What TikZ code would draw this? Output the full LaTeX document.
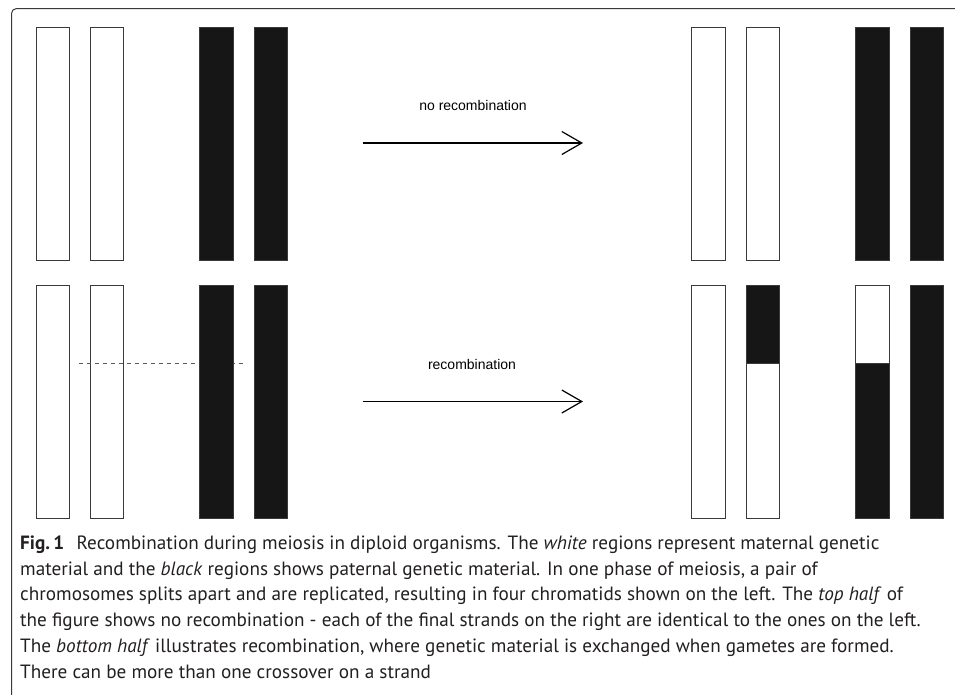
\documentclass[tikz,border=0pt]{standalone}
\usepackage{fontspec}
\setmainfont{PT Sans}
\newfontfamily\labelfont{Liberation Sans}
\usetikzlibrary{arrows.meta}
\definecolor{inkdark}{HTML}{161616}
\definecolor{edgegray}{HTML}{3A3A3A}
\definecolor{captiongray}{HTML}{231F20}
\tikzset{
  whitebar/.style={draw=edgegray, fill=white, line width=0.9pt},
  blackbar/.style={draw=edgegray, fill=inkdark, line width=0.9pt},
  flowarrow/.style={line width=1.2pt, -{Straight Barb[length=20pt,width=23pt,line width=1.2pt]}},
  arrowlabel/.style={font=\labelfont\fontsize{14}{16}\selectfont, text=black},
  crossline/.style={draw=black!65, line width=1pt, dash pattern=on 4pt off 4pt},
}
\begin{document}
\begin{tikzpicture}[x=1pt,y=-1pt]
\useasboundingbox (0,0) rectangle (955,694);

% frame of the figure panel
\draw[edgegray, line width=1pt, rounded corners=5pt] (11.5,700) -- (11.5,8.5) -- (965,8.5);

% ---- top row: no recombination ----
\draw[whitebar] (36,27) rectangle (69,260);
\draw[whitebar] (90.5,27) rectangle (123.5,260);
\draw[blackbar] (199.5,27) rectangle (233,260);
\draw[blackbar] (254,27) rectangle (287.5,260);

\draw[whitebar] (691.5,27) rectangle (725,260);
\draw[whitebar] (746,27) rectangle (779.5,260);
\draw[blackbar] (855.5,27) rectangle (889,260);
\draw[blackbar] (910,27) rectangle (943.5,260);

\coordinate (a1s) at (362.5,143);
\coordinate (a1e) at (583,143);
\draw[flowarrow] (a1s) -- (a1e);
\node[arrowlabel] (lab1) at (473,105) {no recombination};

% ---- bottom row: recombination ----
\draw[whitebar] (36,285.5) rectangle (69,518);
\draw[whitebar] (90.5,285.5) rectangle (123.5,518);
\draw[crossline] (79,363) -- (243.5,363);
\draw[blackbar] (199.5,285.5) rectangle (233,518);
\draw[blackbar] (254,285.5) rectangle (287.5,518);

\draw[whitebar] (691.5,285.5) rectangle (725,518);
% recombined strands
\draw[blackbar] (746,285.5) rectangle (779.5,363);
\draw[whitebar] (746,363) rectangle (779.5,518);
\draw[whitebar] (855.5,285.5) rectangle (889,363);
\draw[blackbar] (855.5,363) rectangle (889,518);
\draw[blackbar] (910,285.5) rectangle (943.5,518);

\coordinate (a2s) at (362.5,401.5);
\coordinate (a2e) at (583,401.5);
\draw[flowarrow] (a2s) -- (a2e);
\node[arrowlabel] (lab2) at (472,364) {recombination};

% ---- caption ----
\node[anchor=north west, inner sep=0pt, align=left, text=captiongray,
      font=\fontsize{19.2}{25.8}\selectfont] (caption) at (20,535.5) {%
\textbf{Fig.\,1}\hspace{0.65em}Recombination during meiosis in diploid organisms. The \textit{white} regions represent maternal genetic\\
material and the \textit{black} regions shows paternal genetic material. In one phase of meiosis, a pair of\\
chromosomes splits apart and are replicated, resulting in four chromatids shown on the left. The \textit{top half} of\\
the figure shows no recombination - each of the final strands on the right are identical to the ones on the left.\\
The \textit{bottom half} illustrates recombination, where genetic material is exchanged when gametes are formed.\\
There can be more than one crossover on a strand};
\end{tikzpicture}
\end{document}
